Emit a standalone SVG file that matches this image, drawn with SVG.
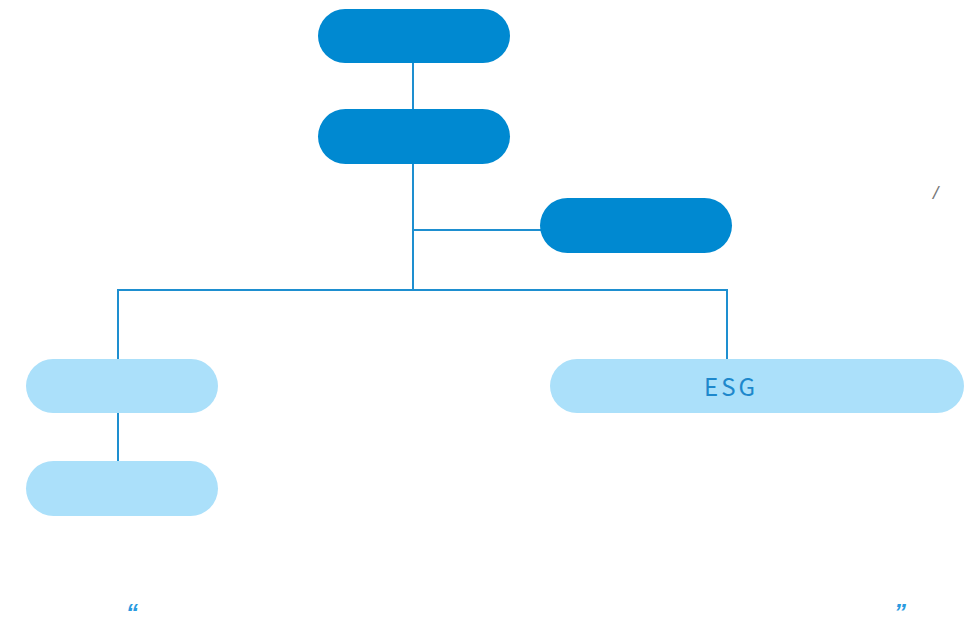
<svg xmlns="http://www.w3.org/2000/svg" width="974" height="626" viewBox="0 0 974 626">
<style>
.dark{fill:#0089D1}
.light{fill:#ABE0FA}
.conn{stroke:#1E8FD0;stroke-width:2;fill:none}
.lbl{font-family:"Noto Sans CJK SC","Liberation Sans",sans-serif;fill:#1E88CC}
.q{font-family:"Liberation Sans",sans-serif;font-size:24px;font-style:italic;font-weight:bold;fill:#2A9AE0}
</style>
<rect width="974" height="626" fill="#ffffff"/>
<g id="connectors">
<line class="conn" x1="413" y1="63" x2="413" y2="109"/>
<line class="conn" x1="413" y1="164" x2="413" y2="290"/>
<line class="conn" x1="413" y1="230" x2="541" y2="230"/>
<polyline class="conn" points="118,359 118,290 727,290 727,359"/>
<line class="conn" x1="118" y1="413" x2="118" y2="461"/>
</g>
<g id="node1"><rect class="dark" x="318" y="9" width="192" height="54" rx="27"/></g>
<g id="node2"><rect class="dark" x="318" y="109" width="192" height="55" rx="27.5"/></g>
<g id="node3"><rect class="dark" x="540" y="198" width="192" height="55" rx="27.5"/></g>
<g id="node4"><rect class="light" x="26" y="359" width="192" height="54" rx="27"/></g>
<g id="node5"><rect class="light" x="26" y="461" width="192" height="55" rx="27.5"/></g>
<g id="node6"><rect class="light" x="550" y="359" width="414" height="54" rx="27"/>
<text class="lbl" x="704" y="396" font-size="24" letter-spacing="3">ESG</text></g>
<text x="933" y="199" font-family="Liberation Sans,sans-serif" font-size="19" font-style="italic" fill="#777777">/</text>
<text class="q" x="126" y="621">“</text>
<text class="q" x="894" y="621">”</text>
</svg>
